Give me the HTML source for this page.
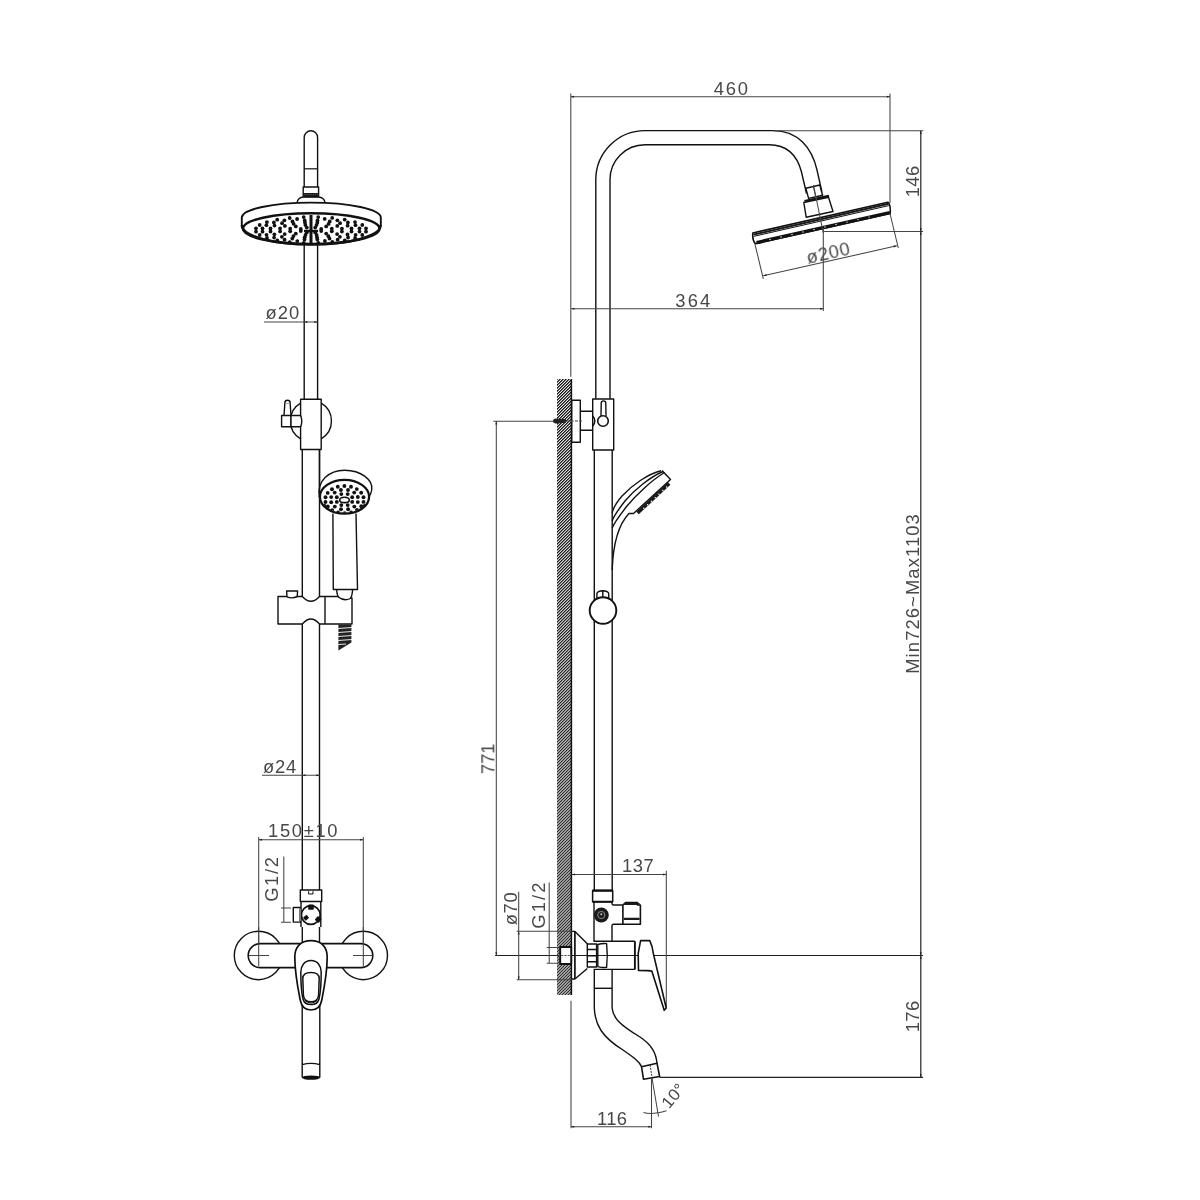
<!DOCTYPE html>
<html><head><meta charset="utf-8"><style>
html,body{margin:0;padding:0;background:#fff;width:1200px;height:1200px;overflow:hidden}
svg{display:block}
.o{fill:none;stroke:#111;stroke-width:1.4;stroke-linejoin:round}
.d{fill:none;stroke:#444;stroke-width:1.05}
.t{font-family:"Liberation Sans",sans-serif;fill:#484848;filter:grayscale(1)}
</style></head><body>
<svg width="1200" height="1200" viewBox="0 0 1200 1200">
<defs><pattern id="hatch" patternUnits="userSpaceOnUse" width="2.12" height="2.12" patternTransform="rotate(45)"><rect width="2.12" height="2.12" style="fill:#fff"/><rect width="1.2" height="2.12" fill="#111"/></pattern></defs>
<path class="o" d="M304.2,187 L304.2,137.5 A6.7,6.7 0 0 1 317.6,137.5 L317.6,187"/>
<path class="o" d="M304.2,168.8 L317.6,168.8" style="stroke-width:1.2"/>
<path class="o" d="M303.2,196.8 L303.2,187 L318.6,187 L318.6,196.8"/>
<rect x="303.4" y="193" width="15" height="4.3" fill="#1a1a1a"/>
<path d="M304,194.6 L318,194.6" stroke="#777" stroke-width="0.6" stroke-dasharray="1.2,1"/>
<path class="o" d="M297.2,202.2 Q298,197.4 303.5,197 L318.5,197 Q324,197.4 325,202.2"/>
<path class="o" d="M241.8,225 L241.8,217.6 A69.5,15 0 0 1 380.8,217.6 L380.8,225" style="stroke-width:1.9"/>
<ellipse class="o" cx="311.2" cy="228.6" rx="68.3" ry="15.4" style="stroke-width:2.6"/>
<path class="o" d="M241.8,225 A69.5,19.6 0 0 0 380.8,225" style="stroke-width:2.4"/>
<g fill="#111"><circle cx="321.2" cy="231.0" r="1.9"/><circle cx="315.2" cy="232.4" r="1.9"/><circle cx="306.8" cy="232.4" r="1.9"/><circle cx="300.8" cy="231.0" r="1.9"/><circle cx="300.8" cy="229.0" r="1.9"/><circle cx="306.8" cy="227.6" r="1.9"/><circle cx="315.2" cy="227.6" r="1.9"/><circle cx="321.2" cy="229.0" r="1.9"/><circle cx="331.8" cy="231.3" r="1.9"/><circle cx="326.2" cy="233.6" r="1.9"/><circle cx="316.6" cy="234.9" r="1.9"/><circle cx="305.5" cy="234.9" r="1.9"/><circle cx="295.8" cy="233.6" r="1.9"/><circle cx="290.2" cy="231.3" r="1.9"/><circle cx="290.2" cy="228.7" r="1.9"/><circle cx="295.8" cy="226.4" r="1.9"/><circle cx="305.4" cy="225.1" r="1.9"/><circle cx="316.5" cy="225.1" r="1.9"/><circle cx="326.2" cy="226.4" r="1.9"/><circle cx="331.8" cy="228.7" r="1.9"/><circle cx="341.9" cy="231.5" r="1.9"/><circle cx="337.1" cy="234.1" r="1.9"/><circle cx="328.4" cy="236.2" r="1.9"/><circle cx="317.0" cy="237.3" r="1.9"/><circle cx="304.7" cy="237.3" r="1.9"/><circle cx="293.4" cy="236.1" r="1.9"/><circle cx="284.7" cy="234.1" r="1.9"/><circle cx="280.1" cy="231.4" r="1.9"/><circle cx="280.1" cy="228.5" r="1.9"/><circle cx="284.9" cy="225.9" r="1.9"/><circle cx="293.6" cy="223.8" r="1.9"/><circle cx="305.0" cy="222.7" r="1.9"/><circle cx="317.3" cy="222.7" r="1.9"/><circle cx="328.6" cy="223.9" r="1.9"/><circle cx="337.3" cy="225.9" r="1.9"/><circle cx="341.9" cy="228.6" r="1.9"/><circle cx="351.5" cy="231.5" r="1.9"/><circle cx="347.5" cy="234.4" r="1.9"/><circle cx="339.9" cy="236.8" r="1.9"/><circle cx="329.5" cy="238.6" r="1.9"/><circle cx="317.3" cy="239.5" r="1.9"/><circle cx="304.5" cy="239.5" r="1.9"/><circle cx="292.3" cy="238.6" r="1.9"/><circle cx="281.9" cy="236.8" r="1.9"/><circle cx="274.4" cy="234.3" r="1.9"/><circle cx="270.5" cy="231.5" r="1.9"/><circle cx="270.5" cy="228.5" r="1.9"/><circle cx="274.5" cy="225.6" r="1.9"/><circle cx="282.1" cy="223.2" r="1.9"/><circle cx="292.5" cy="221.4" r="1.9"/><circle cx="304.7" cy="220.5" r="1.9"/><circle cx="317.5" cy="220.5" r="1.9"/><circle cx="329.7" cy="221.4" r="1.9"/><circle cx="340.1" cy="223.2" r="1.9"/><circle cx="347.6" cy="225.7" r="1.9"/><circle cx="351.5" cy="228.5" r="1.9"/><circle cx="359.5" cy="231.6" r="1.9"/><circle cx="355.6" cy="234.8" r="1.9"/><circle cx="348.1" cy="237.5" r="1.9"/><circle cx="337.6" cy="239.7" r="1.9"/><circle cx="324.9" cy="241.0" r="1.9"/><circle cx="297.3" cy="241.1" r="1.9"/><circle cx="284.6" cy="239.7" r="1.9"/><circle cx="274.1" cy="237.6" r="1.9"/><circle cx="266.5" cy="234.8" r="1.9"/><circle cx="262.5" cy="231.7" r="1.9"/><circle cx="262.5" cy="228.4" r="1.9"/><circle cx="266.4" cy="225.2" r="1.9"/><circle cx="273.9" cy="222.5" r="1.9"/><circle cx="284.4" cy="220.3" r="1.9"/><circle cx="297.1" cy="219.0" r="1.9"/><circle cx="324.7" cy="218.9" r="1.9"/><circle cx="337.4" cy="220.3" r="1.9"/><circle cx="347.9" cy="222.4" r="1.9"/><circle cx="355.5" cy="225.2" r="1.9"/><circle cx="359.5" cy="228.3" r="1.9"/><circle cx="366.0" cy="231.7" r="1.9"/><circle cx="362.3" cy="235.0" r="1.9"/><circle cx="355.1" cy="237.9" r="1.9"/><circle cx="344.8" cy="240.3" r="1.9"/><circle cx="332.3" cy="242.0" r="1.9"/><circle cx="318.3" cy="242.9" r="1.9"/><circle cx="303.8" cy="242.9" r="1.9"/><circle cx="289.8" cy="242.1" r="1.9"/><circle cx="277.3" cy="240.4" r="1.9"/><circle cx="267.0" cy="237.9" r="1.9"/><circle cx="259.7" cy="235.0" r="1.9"/><circle cx="256.0" cy="231.7" r="1.9"/><circle cx="256.0" cy="228.3" r="1.9"/><circle cx="259.7" cy="225.0" r="1.9"/><circle cx="266.9" cy="222.1" r="1.9"/><circle cx="277.2" cy="219.7" r="1.9"/><circle cx="289.7" cy="218.0" r="1.9"/><circle cx="303.7" cy="217.1" r="1.9"/><circle cx="318.2" cy="217.1" r="1.9"/><circle cx="332.2" cy="217.9" r="1.9"/><circle cx="344.7" cy="219.6" r="1.9"/><circle cx="355.0" cy="222.1" r="1.9"/><circle cx="362.3" cy="225.0" r="1.9"/><circle cx="366.0" cy="228.3" r="1.9"/></g>
<path d="M311,215 L311,244" stroke="#111" stroke-width="3"/>
<path d="M304,231 L318,231" stroke="#111" stroke-width="2.4"/>
<path class="o" d="M304.2,244.5 L304.2,399.3 M317.6,244.5 L317.6,399.3"/>
<path class="d" d="M264,322 L317.6,322"/>
<path d="M304.20,322.00 L307.40,321.00 L307.40,323.00 Z" fill="#222"/><path d="M317.60,322.00 L314.40,323.00 L314.40,321.00 Z" fill="#222"/>
<rect class="o" x="300.6" y="399.3" width="20.6" height="50.2"/>
<path class="o" d="M300.6,403.2 A20.6,20.6 0 0 0 300.6,438.8 M321.2,403.2 A20.6,20.6 0 0 1 321.2,438.8"/>
<path class="o" d="M284,415.5 L284.9,402.8 A2.6,2.6 0 0 1 290.1,402.8 L291,415.5"/>
<path d="M285.2,403.4 L289.8,403.4" stroke="#888" stroke-width="0.8"/>
<rect class="o" x="281.6" y="415.5" width="9.4" height="11.3" style="fill:#fff"/>
<path class="o" d="M291,415.5 L300.6,415.5 Q303,421.1 300.6,426.8 L291,426.8 Z" style="fill:#fff"/>
<path class="o" d="M302.3,449.5 L302.3,596.5 M319.5,449.5 L319.5,596.5"/>
<path class="o" d="M319.5,497 C316.5,481 329,470.2 344.6,470.2 C361,470.2 373.5,480 371.7,490 C371.3,493 370,495.5 368.5,497.5" style="fill:#fff"/>
<path class="o" d="M319.5,449.5 L319.5,497"/>
<ellipse class="o" cx="344.5" cy="496.8" rx="24.6" ry="16.9" style="fill:#fff;stroke-width:2.3"/>
<clipPath id="hsclip"><ellipse cx="344.5" cy="496.8" rx="23.6" ry="15.9"/></clipPath>
<g fill="#111" clip-path="url(#hsclip)"><circle cx="352.2" cy="501.9" r="1.95"/><circle cx="347.7" cy="505.1" r="1.95"/><circle cx="341.3" cy="505.1" r="1.95"/><circle cx="336.8" cy="501.9" r="1.95"/><circle cx="336.8" cy="497.3" r="1.95"/><circle cx="341.3" cy="494.1" r="1.95"/><circle cx="347.7" cy="494.1" r="1.95"/><circle cx="352.2" cy="497.3" r="1.95"/><circle cx="357.8" cy="502.1" r="1.95"/><circle cx="354.3" cy="506.6" r="1.95"/><circle cx="348.1" cy="509.2" r="1.95"/><circle cx="341.0" cy="509.2" r="1.95"/><circle cx="334.8" cy="506.6" r="1.95"/><circle cx="331.2" cy="502.2" r="1.95"/><circle cx="331.2" cy="497.1" r="1.95"/><circle cx="334.7" cy="492.6" r="1.95"/><circle cx="340.9" cy="490.0" r="1.95"/><circle cx="348.0" cy="490.0" r="1.95"/><circle cx="354.2" cy="492.6" r="1.95"/><circle cx="357.8" cy="497.0" r="1.95"/><circle cx="363.5" cy="501.9" r="1.95"/><circle cx="361.3" cy="506.3" r="1.95"/><circle cx="357.0" cy="510.0" r="1.95"/><circle cx="351.2" cy="512.4" r="1.95"/><circle cx="344.6" cy="513.2" r="1.95"/><circle cx="338.0" cy="512.4" r="1.95"/><circle cx="332.2" cy="510.1" r="1.95"/><circle cx="327.8" cy="506.5" r="1.95"/><circle cx="325.5" cy="502.0" r="1.95"/><circle cx="325.5" cy="497.3" r="1.95"/><circle cx="327.7" cy="492.9" r="1.95"/><circle cx="332.0" cy="489.2" r="1.95"/><circle cx="337.8" cy="486.8" r="1.95"/><circle cx="344.4" cy="486.0" r="1.95"/><circle cx="351.0" cy="486.8" r="1.95"/><circle cx="356.8" cy="489.1" r="1.95"/><circle cx="361.2" cy="492.7" r="1.95"/><circle cx="363.5" cy="497.2" r="1.95"/><circle cx="364.9" cy="505.8" r="1.95"/><circle cx="361.5" cy="509.3" r="1.95"/><circle cx="356.7" cy="512.1" r="1.95"/><circle cx="350.9" cy="513.9" r="1.95"/><circle cx="344.6" cy="514.5" r="1.95"/><circle cx="338.2" cy="513.9" r="1.95"/><circle cx="332.4" cy="512.2" r="1.95"/><circle cx="327.6" cy="509.4" r="1.95"/><circle cx="324.2" cy="505.8" r="1.95"/></g>
<ellipse cx="344.5" cy="499.9" rx="4.8" ry="2.7" style="fill:#fff" stroke="#111" stroke-width="1.6"/>
<path class="o" d="M332.9,513.5 L333.3,589.5 L357.5,589.5 L356,513.5"/>
<path class="o" d="M336.6,589.5 Q337,596 339.5,598.2 M352.6,589.5 Q352.2,596 350.5,598.2"/>
<path class="o" d="M278,596.5 L302.3,596.5 Q311,606 319.5,596.5 L337.5,596.5 Q344.5,602 351.5,598 L352,598 L352,624 L319.5,624 Q311,614 302.3,624 L278,624 Z" style="fill:#fff"/>
<path class="o" d="M325,596.5 L325,624"/>
<path class="o" d="M287,596.8 L286.6,591 L297.6,591 L297.2,596.5 Q292,599 287,596.8" style="fill:#fff"/>
<path d="M338.4,624.5 L351.4,624.5 L351.4,642.5 L338.4,650.5 Z" fill="#222"/>
<path d="M338,628.5 L352,627.5 M338,632.5 L352,631.5 M338,636.5 L352,635.5 M338,640.5 L352,639.5 M338,644.5 L346,644" stroke="#fff" stroke-width="0.9"/>
<path class="o" d="M302.3,624 L302.3,890 M319.5,624 L319.5,890"/>
<path class="d" d="M262,775.3 L319.5,775.3"/>
<path d="M302.30,775.30 L305.50,774.30 L305.50,776.30 Z" fill="#222"/><path d="M319.50,775.30 L316.30,776.30 L316.30,774.30 Z" fill="#222"/>
<path class="d" d="M258.7,839.7 L363.3,839.7 M258.7,837 L258.7,966 M363.3,837 L363.3,966"/>
<path d="M258.70,839.70 L261.90,838.70 L261.90,840.70 Z" fill="#222"/><path d="M363.30,839.70 L360.10,840.70 L360.10,838.70 Z" fill="#222"/>
<path class="d" d="M283.8,856.5 L283.8,922.3 M281,908 L291,908 M281,922.3 L291,922.3"/>
<rect class="o" x="300.3" y="890" width="21.4" height="11.5"/>
<path class="o" d="M308.6,891.2 L308.6,894 L313,894 L313,891.2" style="stroke-width:1"/>
<path class="o" d="M301,902 L301,927 M320.8,902 L320.8,927"/>
<circle class="o" cx="310.8" cy="915" r="9.4" style="stroke-width:1.7"/>
<g fill="#111"><rect x="308.2" y="904.6" width="5.6" height="5.2" rx="0.8"/><rect x="303.8" y="915.6" width="4.6" height="4.2" rx="0.8" transform="rotate(-40 306.1 917.7)"/><rect x="315.6" y="917" width="5.2" height="5" rx="0.8" transform="rotate(40 318.2 919.5)"/></g>
<rect class="o" x="293.3" y="907.5" width="7.2" height="14.6"/>
<rect x="299" y="908.5" width="2" height="12.6" fill="#777"/>
<path class="o" d="M302.3,927 L302.3,943.5 M319.5,927 L319.5,943.5"/>
<circle class="o" cx="258.5" cy="955.5" r="24.2"/>
<circle class="o" cx="363.3" cy="955.5" r="24.2"/>
<rect class="o" x="248.2" y="943.6" width="124.6" height="24" rx="12" style="fill:#fff;stroke-width:1.6"/>
<path class="d" d="M258.7,927 L258.7,966 M363.3,927 L363.3,966"/>
<path class="d" d="M248.8,955.5 L269,955.5 M353,955.5 L372.5,955.5"/>
<path class="o" d="M302.2,1000 L302.2,1077.5 M319.8,1000 L319.8,1077.5 M302.2,1064.6 Q311,1062.2 319.8,1064.6"/>
<ellipse cx="311" cy="1077.6" rx="9.2" ry="2.2" fill="#111"/>
<path class="o" d="M311,940.6 C321.5,940.6 327.2,947 327.2,957 C327.2,970 323.8,990 321.8,1000 C320.3,1008 316,1010 311,1010 C306,1010 301.7,1008 300.2,1000 C298.2,990 294.8,970 294.8,957 C294.8,947 300.5,940.6 311,940.6 Z" style="stroke-width:1.7;fill:#fff"/>
<path class="o" d="M311,960.5 C317.5,960.5 321.2,966 321.2,972 C321.2,982 320,995 319,999 C318,1003 315,1004.6 311,1004.6 C307,1004.6 304,1003 303,999 C302,995 300.8,982 300.8,972 C300.8,966 304.5,960.5 311,960.5 Z" style="stroke-width:1.5"/>
<path class="o" d="M311,972.5 C316.5,972.5 319.2,974 319.2,978.5 L318.6,995 C318.2,999.5 315,1001.8 311,1001.8 C307,1001.8 303.8,999.5 303.4,995 L302.8,978.5 C302.8,974 305.5,972.5 311,972.5 Z" style="stroke-width:1.5"/>
<path class="o" d="M304.8,1000.5 Q311,1005.5 317.2,1000.5" style="stroke-width:1"/>
<rect x="557" y="379" width="14.4" height="616" fill="url(#hatch)"/>
<path d="M571.4,379 L571.4,995" stroke="#111" stroke-width="1.5"/>
<path class="o" d="M595.8,398.8 L595.8,179.8 A49.2,49.2 0 0 1 645,130.6 L773.3,130.6 C798,130.6 812,148 817,170 L821.8,191.5"/>
<path class="o" d="M610,398.8 L610,179.8 A35,35 0 0 1 645,144.8 L769.2,144.8 C787,144.8 797,155 801.5,172 L806.5,193.5"/>
<path class="o" d="M805.8,188.2 L819.8,185 L822.6,195.2 L808.6,198.4 Z"/>
<path class="d" d="M813.2,186.2 L815.8,197.2"/>
<path class="o" d="M803.8,202.5 L828.5,197.2 L833,211.5 L806.2,217.2 Z"/>
<path d="M804.5,201 L829,195.8" stroke="#111" stroke-width="2.2"/>
<path class="o" d="M752.8,233 L887.8,202.2 Q890.8,204 890.2,213.5 L755.2,243.8 Q752.2,240 752.8,233 Z" style="fill:#fff;stroke-width:1.6"/>
<path d="M753.5,234.6 L888.5,203.8" stroke="#1a1a1a" stroke-width="2.0"/>
<path d="M754,236.3 L888.8,205.6" stroke="#111" stroke-width="1.0"/>
<path d="M756.5,242.6 L889.8,212.6" stroke="#111" stroke-width="3.4"/>
<g fill="#fff"><circle cx="770.00" cy="239.40" r="0.7"/><circle cx="781.00" cy="236.93" r="0.7"/><circle cx="792.00" cy="234.45" r="0.7"/><circle cx="803.00" cy="231.97" r="0.7"/><circle cx="814.00" cy="229.50" r="0.7"/><circle cx="825.00" cy="227.03" r="0.7"/><circle cx="836.00" cy="224.55" r="0.7"/><circle cx="847.00" cy="222.08" r="0.7"/><circle cx="858.00" cy="219.60" r="0.7"/><circle cx="869.00" cy="217.12" r="0.7"/></g>
<path class="d" d="M813.5,185 L823.3,233"/>
<path class="d" d="M823.3,228.5 L823.3,311 M823.3,231.5 L923,231.5"/>
<path class="d" d="M755,244.3 L763.3,278.8 M890,213.5 L898.3,248 M763.3,275.8 L896.8,245.8"/>
<path d="M763.30,275.80 L766.20,274.12 L766.64,276.07 Z" fill="#222"/><path d="M896.80,245.80 L893.90,247.48 L893.46,245.53 Z" fill="#222"/>
<path class="d" d="M571.2,308.7 L823.3,308.7"/>
<path d="M571.20,308.70 L574.40,307.70 L574.40,309.70 Z" fill="#222"/><path d="M823.30,308.70 L820.10,309.70 L820.10,307.70 Z" fill="#222"/>
<path class="d" d="M570.8,96.7 L890,96.7 M570.8,93.5 L570.8,376.7 M890,93.5 L890,203"/>
<path d="M570.80,96.70 L574.00,95.70 L574.00,97.70 Z" fill="#222"/><path d="M890.00,96.70 L886.80,97.70 L886.80,95.70 Z" fill="#222"/>
<path class="d" d="M773,130.7 L923.3,130.7"/>
<path d="M659.5,1077.4 L923,1077.4 M495,955.5 L923,955.5" stroke="#222" stroke-width="1.15"/>
<path d="M920.8,130.7 L920.8,1077.2" stroke="#222" stroke-width="1.2"/>
<path d="M920.80,130.70 L921.80,133.90 L919.80,133.90 Z" fill="#222"/><path d="M920.80,231.50 L919.80,228.30 L921.80,228.30 Z" fill="#222"/><path d="M920.80,231.50 L921.80,234.70 L919.80,234.70 Z" fill="#222"/><path d="M920.80,955.50 L919.80,952.30 L921.80,952.30 Z" fill="#222"/><path d="M920.80,955.50 L921.80,958.70 L919.80,958.70 Z" fill="#222"/><path d="M920.80,1077.40 L919.80,1074.20 L921.80,1074.20 Z" fill="#222"/>
<rect class="o" x="571.7" y="400.3" width="8.6" height="42"/>
<path class="o" d="M580.3,411.3 L592.7,411.3 M580.3,430.3 L592.7,430.3"/>
<rect class="o" x="592.7" y="399" width="21" height="51"/>
<path class="o" d="M592.7,416 Q597,421 592.7,426"/>
<path class="o" d="M601,416 L601.2,403.2 A2.3,2.3 0 0 1 605.8,403.2 L606,416"/>
<circle class="o" cx="603" cy="421" r="5.3" style="fill:#fff;stroke-width:1.6"/>
<path d="M553,421 Q553,418.8 556,418.6 L566,419.2 L566,422.8 L556,423.4 Q553,423.2 553,421 Z" fill="#222"/>
<path class="d" d="M566,421 L582,421" stroke-dasharray="3,1.5"/>
<path class="d" d="M493.3,421.3 L553,421.3 M496.3,421.3 L496.3,955.5"/>
<path d="M496.30,421.30 L497.30,424.50 L495.30,424.50 Z" fill="#222"/><path d="M496.30,955.50 L495.30,952.30 L497.30,952.30 Z" fill="#222"/>
<path class="o" d="M594.3,450 L594.3,890 M612.2,450 L612.2,890"/>
<path class="o" d="M662,470.5 L670.5,479.5 L633.5,513.5 L629,513.5 C618,525 613,545 612.2,570"/>
<path class="o" d="M661,470.8 C648,474 632,485 622,496 C616,503 613,509 612.2,513"/>
<path class="o" d="M663,471.5 C650,477 634,490 625,501 C618,510 613.5,516 612.2,521"/>
<path class="o" d="M664.5,472.5 C652,480 636,495 627,506 C620,515 614,523 612.2,528"/>
<path d="M669.2,483.5 L637.5,513" stroke="#1a1a1a" stroke-width="3.6"/>
<g fill="#fff"><circle cx="666.63" cy="487.05" r="0.75"/><circle cx="662.83" cy="490.59" r="0.75"/><circle cx="659.02" cy="494.13" r="0.75"/><circle cx="655.22" cy="497.67" r="0.75"/><circle cx="651.41" cy="501.21" r="0.75"/><circle cx="647.61" cy="504.75" r="0.75"/><circle cx="643.81" cy="508.29" r="0.75"/></g>
<path class="o" d="M596.9,598 L596.9,593.5 Q597.5,591 602.8,590.8 Q608.2,591 608.7,593.5 L608.7,598 M602.8,590.8 L602.8,597" style="fill:#fff"/>
<circle class="o" cx="603" cy="610.5" r="13.3" style="stroke-width:1.9;fill:#fff"/>
<path class="o" d="M592.6,890.6 L612.7,890.6 L612.7,901.8 L592.6,901.8 Z" style="stroke-width:1.5"/>
<path d="M592.6,890.6 L612.7,890.6 M592.6,901.8 L612.7,901.8" stroke="#111" stroke-width="2.1"/>
<path class="o" d="M594,901.8 L594,941.2 M612,901.8 L612,903.5 Q612,905 613.5,905 L622.9,905 M622.9,924.3 L613.5,924.3 Q612,924.3 612,925.8 L612,941.2"/>
<circle cx="601.3" cy="915" r="7.5" fill="#1a1a1a"/>
<circle cx="601.3" cy="915" r="3.6" fill="none" stroke="#999" stroke-width="0.9"/><circle cx="601.3" cy="914.3" r="1" fill="#ccc"/>
<path class="o" d="M622.9,905 L622.9,924.3 L640.4,924.3 L640.4,905 L637.5,905 L637.5,902.6 L625.6,902.6 L622.9,905" style="stroke-width:1.6"/>
<path d="M623.8,904 L639.6,904 M623.8,918.8 L639.6,918.8" stroke="#1a1a1a" stroke-width="2.2"/>
<path class="d" d="M571.7,874.5 L666.3,874.5 M666.3,870.8 L666.3,1007"/>
<path d="M571.70,874.50 L574.90,873.50 L574.90,875.50 Z" fill="#222"/><path d="M666.30,874.50 L663.10,875.50 L663.10,873.50 Z" fill="#222"/>
<rect class="o" x="560.2" y="947" width="11" height="17" style="stroke-width:1.9;fill:#fff"/>
<path class="d" d="M558,955.5 L571,955.5" stroke-dasharray="2,1.2"/>
<path class="o" d="M571.4,931.4 L574.9,931.4 L587.3,943.8 M571.4,979 L574.9,979 L587.3,968.5"/>
<path d="M574.9,931.4 L574.9,979" stroke="#111" stroke-width="1.7"/>
<rect class="o" x="587.3" y="944" width="9.3" height="23"/>
<path class="o" d="M587.3,949.4 L596.6,949.4 M587.3,955.7 L596.6,955.7 M587.3,961.7 L596.6,961.7" style="stroke-width:1.5"/>
<path class="o" d="M593.6,941.2 L634.9,941.2 M593.6,969.4 L634.9,969.4"/>
<path class="o" d="M597.8,944.5 Q602,943.2 606.6,943.6 Q608,955.5 606.6,967.4 Q602,967.8 597.8,966.6 Z"/>
<path d="M634.9,941.2 L634.9,969.4" stroke="#111" stroke-width="1.9"/>
<path class="o" d="M640.6,940.6 L649.8,940.6 Q652.5,946 653.3,953.4 L666.2,1008 L664.2,1010.3 L651.9,971.3 Q650,970.4 638.5,970.4 L638.2,953.4 Z" style="stroke-width:1.6;fill:#fff"/>
<path class="d" d="M549.2,882.5 L549.2,963.3 M546.7,947.5 L558.3,947.5 M546.7,963.3 L558.3,963.3"/>
<path class="d" d="M518.7,891.7 L518.7,979.7 M516.7,931.3 L571.7,931.3 M516.7,979.7 L571.7,979.7"/>
<path d="M518.70,931.30 L519.70,934.50 L517.70,934.50 Z" fill="#222"/><path d="M518.70,979.70 L517.70,976.50 L519.70,976.50 Z" fill="#222"/>
<path class="o" d="M594.3,970 L594.3,1008 C595,1025 602,1037 623,1050 C633,1057 639,1061 641.7,1066.7"/>
<path class="o" d="M612.1,970 L612.1,1008 C613,1018 620,1025 640,1037 C652,1045 656,1053 657,1063.3"/>
<path class="o" d="M594.3,988.3 L612.1,988.3"/>
<path class="o" d="M641.5,1066.7 L657,1063.2 L659.6,1076.5 L643.5,1079.2 Z" style="stroke-width:1.6"/>
<path class="d" d="M650,1065 L652,1077" stroke-dasharray="2,1"/>
<path class="d" d="M571,1000.8 L571,1128.3 M570.8,1126.7 L651.3,1126.7 M651.5,1078 L651.5,1128.3"/>
<path d="M571.00,1126.70 L574.20,1125.70 L574.20,1127.70 Z" fill="#222"/><path d="M651.50,1126.70 L648.30,1127.70 L648.30,1125.70 Z" fill="#222"/>
<path class="d" d="M652,1078 L658.5,1116.5"/>
<path class="d" d="M643.5,1112.5 Q652,1115 666.5,1110.8"/>
<g class="t"><text transform="translate(265.54,319.36) rotate(0.00) scale(1.050,1)" x="0" y="0" style="font-size:17.50px" textLength="32.11" lengthAdjust="spacing">ø20</text>
<text transform="translate(263.11,773.48) rotate(0.00) scale(1.050,1)" x="0" y="0" style="font-size:17.50px" textLength="31.60" lengthAdjust="spacing">ø24</text>
<text transform="translate(268.11,837.48) rotate(0.00) scale(1.050,1)" x="0" y="0" style="font-size:17.50px" textLength="66.08" lengthAdjust="spacing">150±10</text>
<text transform="translate(278.20,901.85) rotate(-90.00) scale(1.050,1)" x="0" y="0" style="font-size:17.50px" textLength="42.76" lengthAdjust="spacing">G1/2</text>
<text transform="translate(713.65,95.00) rotate(0.00) scale(1.050,1)" x="0" y="0" style="font-size:17.50px" textLength="32.67" lengthAdjust="spacing">460</text>
<text transform="translate(675.24,307.32) rotate(0.00) scale(1.050,1)" x="0" y="0" style="font-size:17.50px" textLength="33.45" lengthAdjust="spacing">364</text>
<text transform="translate(919.32,197.32) rotate(-90.00) scale(1.050,1)" x="0" y="0" style="font-size:17.50px" textLength="30.10" lengthAdjust="spacing">146</text>
<text transform="translate(919.36,673.80) rotate(-90.00) scale(1.050,1)" x="0" y="0" style="font-size:17.50px" textLength="152.00" lengthAdjust="spacing">Min726~Max1103</text>
<text transform="translate(918.60,1032.35) rotate(-90.00) scale(1.050,1)" x="0" y="0" style="font-size:17.50px" textLength="30.10" lengthAdjust="spacing">176</text>
<text transform="translate(494.32,774.12) rotate(-90.00) scale(1.050,1)" x="0" y="0" style="font-size:17.50px" textLength="29.10" lengthAdjust="spacing">771</text>
<text transform="translate(622.00,871.52) rotate(0.00) scale(1.050,1)" x="0" y="0" style="font-size:17.50px" textLength="30.10" lengthAdjust="spacing">137</text>
<text transform="translate(516.52,925.29) rotate(-90.00) scale(1.050,1)" x="0" y="0" style="font-size:17.50px" textLength="31.35" lengthAdjust="spacing">ø70</text>
<text transform="translate(545.00,928.68) rotate(-90.00) scale(1.050,1)" x="0" y="0" style="font-size:17.50px" textLength="43.90" lengthAdjust="spacing">G1/2</text>
<text transform="translate(597.09,1125.00) rotate(0.00) scale(1.050,1)" x="0" y="0" style="font-size:17.50px" textLength="28.36" lengthAdjust="spacing">116</text>
<text transform="translate(808.00,264.00) rotate(-12.70) scale(1.050,1)" x="0" y="0" style="font-size:17.50px" textLength="41.90" lengthAdjust="spacing">ø200</text>
<text transform="translate(669.00,1109.50) rotate(-50.00) scale(1.050,1)" x="0" y="0" style="font-size:16.50px">10°</text></g>
</svg></body></html>
